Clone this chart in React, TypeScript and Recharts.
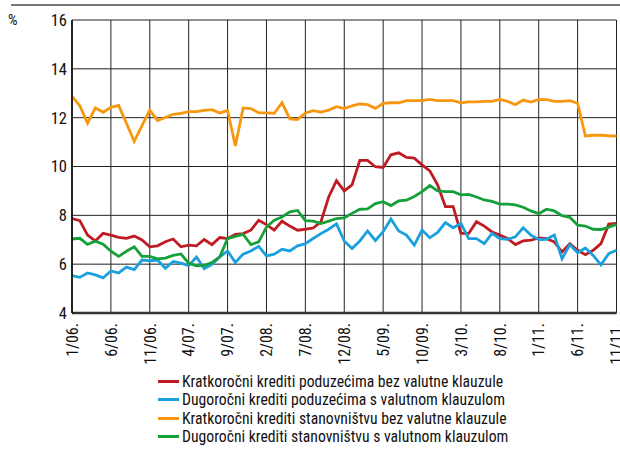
import React from 'react';
import { LineChart, Line, XAxis, YAxis, CartesianGrid } from 'recharts';

const tickLabels = ['1/06.', '6/06.', '11/06.', '4/07.', '9/07.', '2/08.', '7/08.', '12/08.', '5/09.', '10/09.', '3/10.', '8/10.', '1/11.', '6/11.', '11/11.'];
const tickPositions = [0, 5, 10, 15, 20, 25, 30, 35, 40, 45, 50, 55, 60, 65, 70];
const yTicks = [4, 6, 8, 10, 12, 14, 16];

const seriesNames = [
  'Kratkoročni krediti poduzećima bez valutne klauzule',
  'Dugoročni krediti poduzećima s valutnom klauzulom',
  'Kratkoročni krediti stanovništvu bez valutne klauzule',
  'Dugoročni krediti stanovništvu s valutnom klauzulom',
];
const seriesColors = ['#bf1b22', '#1aa0dc', '#f7960f', '#16a03a'];

const redValues = [
  7.87, 7.78, 7.19, 6.95, 7.26, 7.19, 7.1, 7.06, 7.15, 6.99, 6.71, 6.75, 6.92, 7.03, 6.71, 6.78, 6.75, 7.01,
  6.8, 7.09, 7.05, 7.22, 7.25, 7.39, 7.8, 7.62, 7.39, 7.76, 7.56, 7.39, 7.43, 7.48, 7.73, 8.75, 9.42,
  9.0, 9.25, 10.25, 10.25, 9.99, 9.96, 10.48, 10.56, 10.37, 10.34, 10.07, 9.82, 9.25, 8.36, 8.36, 7.26, 7.26, 7.74,
  7.56, 7.32, 7.19, 7.05, 6.8, 6.95, 6.98, 7.08, 7.05, 6.91, 6.5, 6.84, 6.57, 6.39, 6.57, 6.84, 7.64, 7.67,
];
const blueValues = [
  5.53, 5.46, 5.64, 5.56, 5.44, 5.72, 5.64, 5.88, 5.78, 6.17, 6.14, 6.17, 5.83, 6.11, 6.04, 5.94, 6.29, 5.82,
  5.99, 6.3, 6.54, 6.07, 6.41, 6.54, 6.73, 6.34, 6.41, 6.61, 6.54, 6.75, 6.84, 7.05, 7.25, 7.43, 7.65,
  6.95, 6.64, 6.95, 7.36, 6.97, 7.33, 7.85, 7.36, 7.19, 6.78, 7.4, 7.08, 7.3, 7.7, 7.49, 7.67, 7.05, 7.05,
  6.84, 7.26, 7.05, 7.02, 7.12, 7.49, 7.19, 7.01, 7.02, 7.19, 6.22, 6.8, 6.47, 6.66, 6.36, 5.97, 6.43, 6.57,
];
const orangeValues = [
  12.87, 12.49, 11.77, 12.4, 12.22, 12.42, 12.5, 11.77, 11.03, 11.67, 12.31, 11.88, 12.01, 12.14, 12.18, 12.25, 12.25, 12.3,
  12.33, 12.19, 12.3, 10.84, 12.4, 12.37, 12.2, 12.2, 12.18, 12.61, 11.95, 11.92, 12.19, 12.29, 12.23, 12.31, 12.45,
  12.37, 12.48, 12.56, 12.53, 12.38, 12.59, 12.61, 12.61, 12.7, 12.7, 12.7, 12.75, 12.7, 12.7, 12.7, 12.61, 12.65, 12.65,
  12.67, 12.67, 12.75, 12.67, 12.53, 12.72, 12.64, 12.75, 12.74, 12.67, 12.67, 12.7, 12.59, 11.25, 11.28, 11.28, 11.26, 11.25,
];
const greenValues = [
  7.03, 7.06, 6.81, 6.94, 6.82, 6.53, 6.32, 6.53, 6.71, 6.32, 6.32, 6.22, 6.25, 6.36, 6.42, 6.04, 5.93, 5.95,
  6.07, 6.3, 7.05, 7.14, 7.22, 6.8, 6.91, 7.52, 7.8, 7.93, 8.14, 8.2, 7.78, 7.76, 7.66, 7.76, 7.87,
  7.9, 8.08, 8.25, 8.26, 8.48, 8.56, 8.4, 8.59, 8.62, 8.77, 8.97, 9.22, 9.0, 8.97, 8.97, 8.84, 8.86, 8.75,
  8.63, 8.57, 8.46, 8.46, 8.43, 8.33, 8.18, 8.07, 8.25, 8.18, 7.99, 7.92, 7.6, 7.56, 7.43, 7.42, 7.52, 7.63,
];

const data = redValues.map((v, i) => ({
  i,
  red: v,
  blue: blueValues[i],
  orange: orangeValues[i],
  green: greenValues[i],
}));

const FONT = '"Liberation Sans Narrow", "Arial Narrow", "Roboto Condensed", "Liberation Sans", sans-serif';

const XTick = (props: any) => {
  const { x, y, payload } = props;
  const idx = tickPositions.indexOf(payload.value);
  const label = idx >= 0 ? tickLabels[idx] : '';
  return (
    <g transform={`translate(${x},${y})`}>
      <text
        transform="rotate(-90)"
        x={-8}
        y={0}
        dy="0.36em"
        textAnchor="end"
        fontSize={16}
        fontFamily={FONT}
        fill="#111"
      >
        {label}
      </text>
    </g>
  );
};

const keys = ['red', 'blue', 'orange', 'green'];

export default function App() {
  return (
    <div style={{ position: 'absolute', left: 0, top: 0, width: 620, height: 455, background: '#fff', fontFamily: FONT, overflow: 'hidden' }}>
      <div style={{ position: 'absolute', left: 11, top: 4, width: 609, height: 1.5, background: '#777' }} />
      <div style={{ position: 'absolute', left: 8, top: 11, fontSize: 15, color: '#111', lineHeight: '18px' }}>%</div>
      <LineChart width={620} height={455} data={data} margin={{ top: 20, right: 3.5, bottom: 0, left: 0 }}>
        <CartesianGrid stroke="#222" strokeWidth={1} />
        <XAxis
          dataKey="i"
          type="number"
          domain={[0, 70]}
          ticks={tickPositions}
          interval={0}
          height={142}
          tick={<XTick />}
          tickLine={false}
          tickSize={0}
          axisLine={{ stroke: '#333', strokeWidth: 2.5 }}
        />
        <YAxis
          type="number"
          domain={[4, 16]}
          ticks={yTicks}
          interval={0}
          width={72}
          tickLine={false}
          tickSize={0}
          tickMargin={5}
          axisLine={{ stroke: '#000', strokeWidth: 1.5 }}
          tick={{ fontSize: 16.5, fontFamily: FONT, fill: '#111' }}
        />
        {keys.map((k, idx) => (
          <Line
            key={k}
            type="linear"
            dataKey={k}
            name={seriesNames[idx]}
            stroke={seriesColors[idx]}
            strokeWidth={2.8}
            dot={false}
            isAnimationActive={false}
          />
        ))}
      </LineChart>
      <div style={{ position: 'absolute', left: 158, top: 372 }}>
        {seriesNames.map((n, idx) => (
          <div key={n} style={{ display: 'flex', alignItems: 'center', height: 18.5 }}>
            <div style={{ width: 21, height: 3, background: seriesColors[idx], marginRight: 3 }} />
            <span style={{ fontSize: 15.7, color: '#111', whiteSpace: 'nowrap' }}>{n}</span>
          </div>
        ))}
      </div>
    </div>
  );
}
